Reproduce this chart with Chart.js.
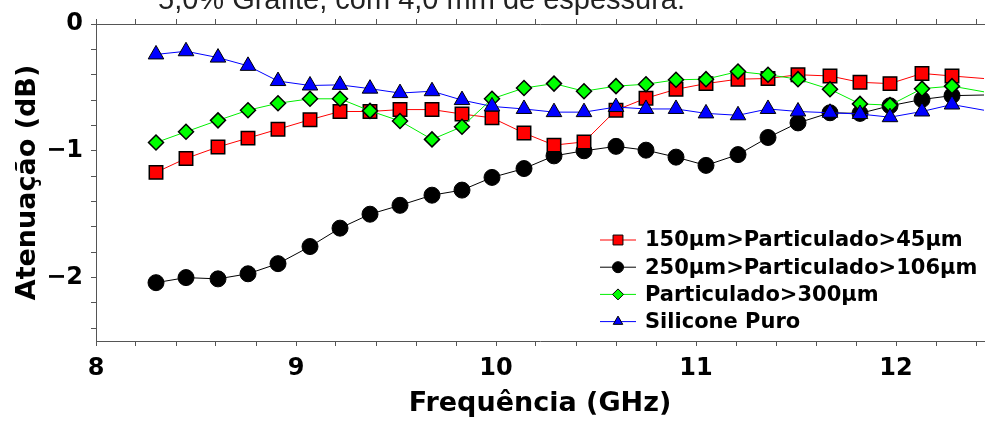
<!DOCTYPE html>
<html>
<head>
<meta charset="utf-8">
<script src="https://cdn.jsdelivr.net/npm/chart.js@4.4.1/dist/chart.umd.min.js"></script>
<style>
  html, body { margin: 0; padding: 0; background: #fff; overflow: hidden; }
  #wrap { position: relative; width: 995px; height: 421px; overflow: hidden; }
  #topTitle {
    position: absolute; left: 158px; top: -15px;
    font: 29px "Liberation Sans", Arial, sans-serif; line-height: 29px;
    color: #222; white-space: nowrap;
  }
</style>
</head>
<body>
<div id="wrap">
  <canvas id="grafico"></canvas>
  <div id="topTitle">5,0% Grafite, com 4,0 mm de espessura.</div>
</div>
<script>
// frequencias (GHz) dos marcadores; o ultimo valor e so o fim da linha
const freqs = [8.30, 8.45, 8.61, 8.76, 8.91, 9.07, 9.22, 9.37, 9.52, 9.68, 9.83, 9.98, 10.14, 10.29,
               10.44, 10.60, 10.75, 10.90, 11.05, 11.21, 11.36, 11.51, 11.67, 11.82, 11.97, 12.13, 12.28, 12.44];

const nomes = ['150μm>Particulado>45μm', '250μm>Particulado>106μm', 'Particulado>300μm', 'Silicone Puro'];

const part45 = [-1.17, -1.06, -0.97, -0.90, -0.83, -0.755, -0.69, -0.69, -0.675, -0.675, -0.71, -0.74, -0.86, -0.955,
                -0.93, -0.68, -0.585, -0.515, -0.47, -0.435, -0.43, -0.40, -0.41, -0.46, -0.47, -0.39, -0.41, -0.43];
const part106 = [-2.04, -2.00, -2.01, -1.97, -1.89, -1.755, -1.61, -1.50, -1.43, -1.35, -1.31, -1.21, -1.14, -1.04,
                 -1.00, -0.965, -0.995, -1.05, -1.115, -1.03, -0.895, -0.78, -0.70, -0.705, -0.645, -0.595, -0.565, -0.56];
const part300 = [-0.935, -0.85, -0.76, -0.68, -0.625, -0.59, -0.59, -0.685, -0.765, -0.91, -0.81, -0.59, -0.505, -0.47,
                 -0.53, -0.49, -0.475, -0.44, -0.435, -0.375, -0.40, -0.435, -0.515, -0.63, -0.64, -0.51, -0.49, -0.535];
const silicone = [-0.24, -0.215, -0.265, -0.33, -0.45, -0.485, -0.48, -0.51, -0.545, -0.53, -0.60, -0.65, -0.67, -0.695,
                  -0.695, -0.655, -0.67, -0.67, -0.705, -0.72, -0.67, -0.69, -0.70, -0.71, -0.735, -0.69, -0.635, -0.68];

const xMin = 8, xMax = 12.44;
const yMin = -2.5, yMax = 0;

Chart.defaults.font.family = '"DejaVu Sans", Verdana, sans-serif';
Chart.defaults.color = '#000';

function pontos(vals) {
    return vals.map(function(v, i) { return { x: freqs[i], y: v }; });
}
// o ultimo ponto nao tem marcador
function raio(r) {
    return function(ctx) { return ctx.dataIndex < freqs.length - 1 ? r : 0; };
}

function serie(label, vals, cor, fundo, estilo, r, borda, ordem) {
    return {
        label: label,
        data: pontos(vals),
        borderColor: cor,
        borderWidth: 1,
        pointStyle: estilo,
        pointRadius: raio(r),
        pointHoverRadius: raio(r),
        pointBackgroundColor: fundo,
        pointBorderColor: '#000',
        pointBorderWidth: borda,
        tension: 0,
        order: ordem
    };
}

const datasets = [
    serie(nomes[0], part45, '#ff0000', '#ff0000', 'rect', 9.5, 1.5, 2),
    serie(nomes[1], part106, '#000000', '#000000', 'circle', 8, 1, 3),
    serie(nomes[2], part300, '#00ee00', '#00ff00', 'rectRot', 7.5, 1.5, 1),
    serie(nomes[3], silicone, '#0000ff', '#0000ff', 'triangle', 9, 1, 0)
];

// legenda desenhada dentro da area do grafico
const legendaInterna = {
    id: 'legendaInterna',
    afterDraw: function(chart) {
        const ctx = chart.ctx;
        const x0 = 600, x1 = 636, xt = 645, y0 = 240, passo = 27.2;
        ctx.save();
        ctx.font = 'bold 21px "DejaVu Sans", Verdana, sans-serif';
        ctx.textBaseline = 'middle';
        chart.data.datasets.forEach(function(ds, i) {
            const y = y0 + i * passo;
            ctx.strokeStyle = ds.borderColor;
            ctx.lineWidth = 1;
            ctx.beginPath();
            ctx.moveTo(x0, y);
            ctx.lineTo(x1, y);
            ctx.stroke();
            ctx.fillStyle = ds.pointBackgroundColor;
            ctx.strokeStyle = '#000';
            ctx.lineWidth = 1;
            Chart.helpers.drawPoint(ctx, { pointStyle: ds.pointStyle, radius: ds.pointStyle === 'rect' ? 7 : 5.5, rotation: 0, borderWidth: 1 }, (x0 + x1) / 2, y);
            ctx.fillStyle = '#000';
            ctx.fillText(ds.label, xt, y + 1);
        });
        ctx.restore();
    }
};

function rotuloInteiro(v) {
    if (Math.abs(v - Math.round(v)) > 1e-6) return '';
    const n = Math.round(v);
    return n < 0 ? '\u2212' + Math.abs(n) : String(n);
}

const eixoCor = '#555';

new Chart(document.getElementById('grafico'), {
    type: 'line',
    data: { datasets: datasets },
    options: {
        responsive: true,
        maintainAspectRatio: false,
        animation: false,
        layout: { padding: { left: 0, right: 2, top: 0, bottom: 0 } },
        plugins: {
            legend: { display: false },
            tooltip: { enabled: false }
        },
        scales: {
            x: {
                type: 'linear',
                position: 'bottom',
                min: xMin,
                max: xMax,
                afterFit: function(s) { s.height = 80; },
                grid: { drawOnChartArea: false, tickLength: 5, color: eixoCor },
                border: { color: eixoCor, width: 1 },
                ticks: {
                    stepSize: 0.2,
                    includeBounds: false,
                    autoSkip: false,
                    maxRotation: 0,
                    padding: 8,
                    font: { size: 24, weight: 'bold' },
                    callback: rotuloInteiro
                },
                title: {
                    display: true,
                    text: 'Frequência (GHz)',
                    font: { size: 27, weight: 'bold' },
                    padding: { top: 0, bottom: 1 }
                }
            },
            xTopo: {
                type: 'linear',
                position: 'top',
                min: xMin,
                max: xMax,
                afterFit: function(s) { s.height = 24; },
                grid: { drawOnChartArea: false, tickLength: 5, color: eixoCor },
                border: { color: eixoCor, width: 1 },
                ticks: { display: false, stepSize: 0.2, includeBounds: false, autoSkip: false }
            },
            y: {
                type: 'linear',
                min: yMin,
                max: yMax,
                afterFit: function(s) { s.width = 96; },
                grid: { drawOnChartArea: false, tickLength: 5, color: eixoCor },
                border: { color: eixoCor, width: 1 },
                ticks: {
                    stepSize: 0.2,
                    includeBounds: false,
                    autoSkip: false,
                    padding: 8,
                    font: { size: 24, weight: 'bold' },
                    callback: rotuloInteiro
                },
                title: {
                    display: true,
                    text: 'Atenuação (dB)',
                    font: { size: 27, weight: 'bold' },
                    padding: { top: 12, bottom: 0 }
                }
            }
        }
    },
    plugins: [legendaInterna]
});
</script>
</body>
</html>
